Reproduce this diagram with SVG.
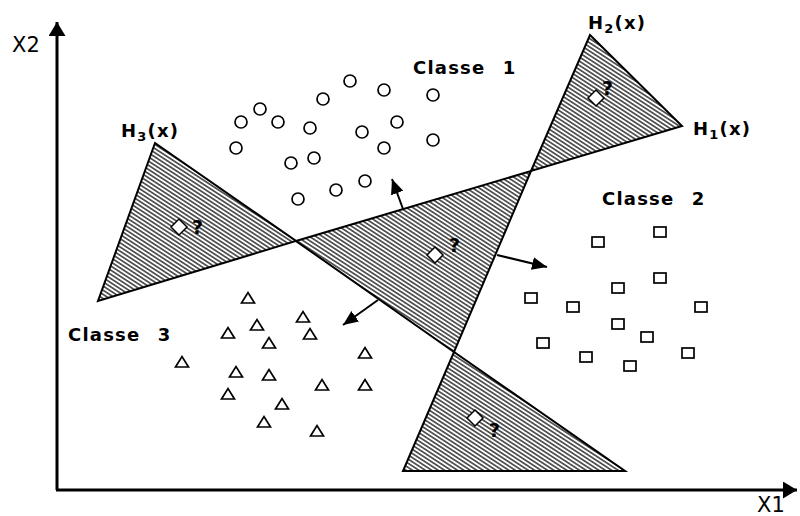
<svg xmlns="http://www.w3.org/2000/svg" xmlns:xlink="http://www.w3.org/1999/xlink" width="800" height="516" viewBox="0 0 800 516">
<style>
.lbl{font-family:"DejaVu Sans","Liberation Sans",sans-serif;font-weight:bold;font-size:18px;fill:#000;letter-spacing:1.2px}
.ax{font-family:"DejaVu Sans","Liberation Sans",sans-serif;font-size:21px;fill:#000}
.q{font-family:"DejaVu Sans","Liberation Sans",sans-serif;font-weight:bold;font-size:19px;fill:#000}
.reg{fill:url(#hatch);stroke:#000;stroke-width:2;stroke-linejoin:miter}
.pt{fill:#fff;stroke:#000;stroke-width:1.7}
.axis{stroke:#000;stroke-width:3;fill:none}
.conn{stroke:#000;stroke-width:2;fill:none;marker-end:url(#ah)}
.dia{fill:#fff;stroke:#000;stroke-width:1.5}
</style>
<defs>
<pattern id="hatch" patternUnits="userSpaceOnUse" width="20" height="3.5" patternTransform="rotate(33)">
<rect width="20" height="3.5" fill="#fff"/>
<line x1="0" y1="1.75" x2="20" y2="1.75" stroke="#000" stroke-width="1.2"/>
</pattern>
<marker id="ah" markerUnits="userSpaceOnUse" markerWidth="16" markerHeight="14" refX="15" refY="6.5" orient="auto">
<path d="M0,0 L15,6.5 L0,13 z" fill="#000"/>
</marker>
<marker id="axh" markerUnits="userSpaceOnUse" markerWidth="16" markerHeight="18" refX="14" refY="8.5" orient="auto">
<path d="M0,0 L14,8.5 L0,17 z" fill="#000"/>
</marker>
<circle id="c" cx="0" cy="0" r="6" class="pt"/>
<rect id="s" x="-6" y="-5" width="12" height="10" class="pt"/>
<path id="t" d="M-6.5,5 L0,-5.5 L6.5,5 z" class="pt"/>
</defs>
<rect width="800" height="516" fill="#fff"/>

<g id="axes">
<line class="axis" x1="57" y1="490" x2="57" y2="22" marker-end="url(#axh)"/>
<line class="axis" x1="56" y1="490" x2="797" y2="490" marker-end="url(#axh)"/>
<text class="ax" x="12" y="52">X2</text>
<text class="ax" x="757" y="512">X1</text>
</g>

<g id="region-h3">
<polygon class="reg" points="155,143 98,301 296,241"/>
<polygon class="dia" points="179,219 187,227 179,235 171,227"/>
<text class="q" x="192" y="234">?</text>
<text class="lbl" x="121" y="137">H<tspan font-size="13" dy="4">3</tspan><tspan dy="-4">(x)</tspan></text>
</g>

<g id="region-h2">
<polygon class="reg" points="590,35 682,126 531,171"/>
<polygon class="dia" points="596,90 604,98 596,106 588,98"/>
<text class="q" x="602" y="95">?</text>
<text class="lbl" x="588" y="29">H<tspan font-size="13" dy="4">2</tspan><tspan dy="-4">(x)</tspan></text>
<text class="lbl" x="693" y="135">H<tspan font-size="13" dy="4">1</tspan><tspan dy="-4">(x)</tspan></text>
</g>

<g id="region-center">
<polygon class="reg" points="296,241 531,171 454,352"/>
<polygon class="dia" points="435,247 443,255 435,263 427,255"/>
<text class="q" x="449" y="252">?</text>
</g>

<g id="region-bottom">
<polygon class="reg" points="454,352 403,471 625,471"/>
<polygon class="dia" points="475,410 483,418 475,426 467,418"/>
<text class="q" x="489" y="437">?</text>
</g>

<g id="connectors">
<line class="conn" x1="403" y1="209" x2="392" y2="179"/>
<line class="conn" x1="497" y1="255" x2="547" y2="267"/>
<line class="conn" x1="378" y1="300" x2="343" y2="325"/>
</g>

<g id="class1">
<text class="lbl" x="413" y="74" style="word-spacing:10px">Classe 1</text>
<use href="#c" x="350" y="81"/><use href="#c" x="384" y="90"/><use href="#c" x="433" y="95"/>
<use href="#c" x="323" y="99"/><use href="#c" x="260" y="109"/><use href="#c" x="241" y="122"/>
<use href="#c" x="278" y="122"/><use href="#c" x="310" y="128"/><use href="#c" x="362" y="132"/>
<use href="#c" x="397" y="122"/><use href="#c" x="433" y="140"/><use href="#c" x="236" y="148"/>
<use href="#c" x="384" y="148"/><use href="#c" x="291" y="163"/><use href="#c" x="314" y="158"/>
<use href="#c" x="365" y="181"/><use href="#c" x="336" y="190"/><use href="#c" x="298" y="199"/>
</g>

<g id="class2">
<text class="lbl" x="602" y="205" style="word-spacing:10px">Classe 2</text>
<use href="#s" x="598" y="242"/><use href="#s" x="660" y="232"/><use href="#s" x="660" y="278"/>
<use href="#s" x="618" y="288"/><use href="#s" x="531" y="298"/><use href="#s" x="573" y="307"/>
<use href="#s" x="701" y="307"/><use href="#s" x="618" y="324"/><use href="#s" x="647" y="337"/>
<use href="#s" x="543" y="343"/><use href="#s" x="586" y="357"/><use href="#s" x="630" y="366"/>
<use href="#s" x="688" y="353"/>
</g>

<g id="class3">
<text class="lbl" x="68" y="341" style="word-spacing:10px">Classe 3</text>
<use href="#t" x="248" y="298"/><use href="#t" x="303" y="317"/><use href="#t" x="257" y="325"/>
<use href="#t" x="228" y="333"/><use href="#t" x="310" y="334"/><use href="#t" x="269" y="343"/>
<use href="#t" x="182" y="362"/><use href="#t" x="365" y="353"/><use href="#t" x="236" y="372"/>
<use href="#t" x="269" y="375"/><use href="#t" x="322" y="385"/><use href="#t" x="365" y="385"/>
<use href="#t" x="228" y="394"/><use href="#t" x="282" y="404"/><use href="#t" x="264" y="422"/>
<use href="#t" x="317" y="431"/>
</g>
</svg>
